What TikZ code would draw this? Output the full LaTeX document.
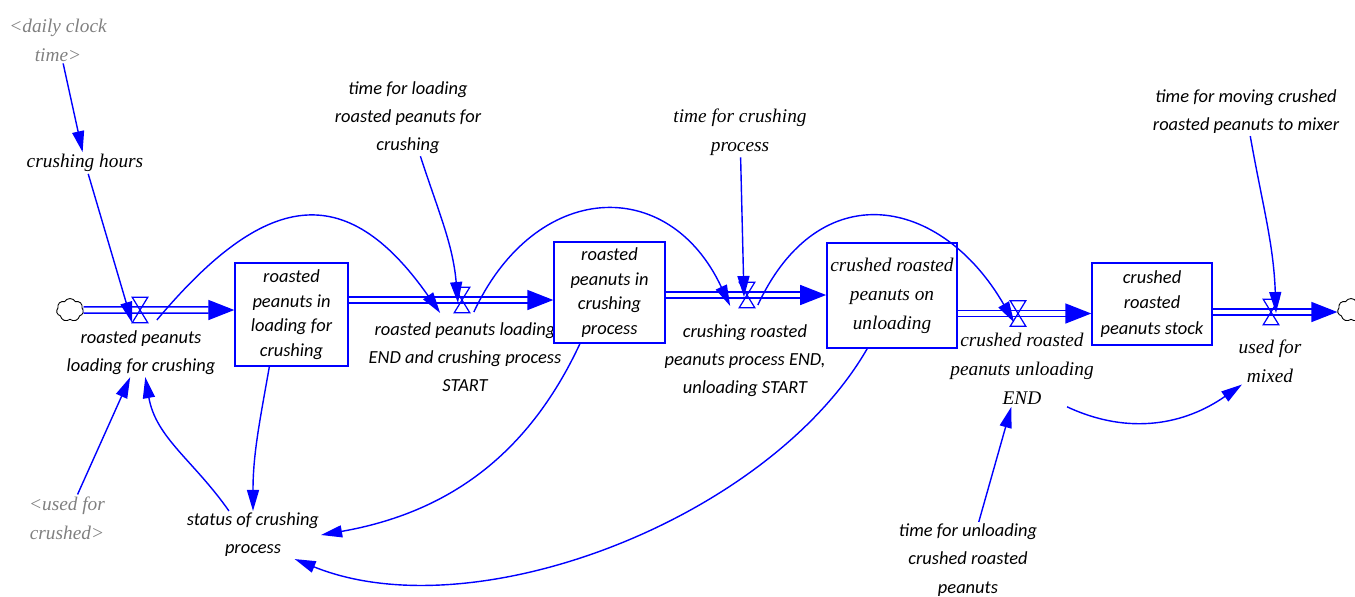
\documentclass[tikz,border=0pt]{standalone}
\usepackage{fontspec}
\usetikzlibrary{arrows.meta,shapes.symbols,calc}
\newfontfamily\carl{Carlito}
\newfontfamily\tms{Liberation Serif}
\definecolor{shadowgrey}{RGB}{128,128,128}
\tikzset{
  lbl/.style={align=center, inner sep=1pt, font=\carl\itshape\fontsize{10.5}{16}\selectfont},
  slbl/.style={align=center, inner sep=1pt, font=\tms\itshape\fontsize{11}{16.5}\selectfont},
  shadow/.style={slbl, text=shadowgrey},
  stock/.style={draw=blue, line width=0.8pt, align=center, inner sep=2pt, font=\carl\itshape\fontsize{10.5}{14}\selectfont},
  valve/.style={minimum width=0.3cm, minimum height=0.5cm, inner sep=0pt},
  source/.style={cloud, draw=black, fill=white, line width=0.5pt, cloud puffs=7, cloud puff arc=120, aspect=1.1, minimum width=0.54cm, minimum height=0.46cm, inner sep=0pt},
  pipe/.style={draw=blue, double=white, line width=0.9pt, double distance=2.6pt, -{Triangle[length=0.52cm,width=0.4cm]}},
  link/.style={blue, line width=0.8pt, -{Triangle[length=0.42cm,width=0.24cm]}}
}
\begin{document}
\begin{tikzpicture}[x=0.02cm,y=0.02cm]
\useasboundingbox (0,0) rectangle (1355,-596);

% stocks, valves and clouds
\node[source] (c1) at (70,-310) {};
\node[valve] (v1) at (140,-310) {};
\node[lbl] (v1lbl) at (141,-353) {roasted peanuts\\loading for crushing};
\node[stock, minimum width=2.26cm, minimum height=2.06cm] (b1) at (291.5,-314.5) {roasted\\peanuts in\\loading for\\crushing};
\node[valve] (v2) at (462,-300) {};
\node[lbl] (v2lbl) at (465,-357) {roasted peanuts loading\\END and crushing process\\START};
\node[stock, minimum width=2.22cm, minimum height=2.02cm] (b2) at (609.5,-292.5) {roasted\\peanuts in\\crushing\\process};
\node[valve] (v3) at (747,-295) {};
\node[lbl] (v3lbl) at (745,-361) {crushing roasted\\peanuts process END,\\unloading START};
\node[stock, font=\tms\itshape\fontsize{11}{16.5}\selectfont, minimum width=2.6cm, minimum height=2.1cm] (b3) at (892,-295.5) {crushed roasted\\peanuts on\\unloading};
\node[valve] (v4) at (1018,-313.5) {};
\node[slbl] (v4lbl) at (1022,-369) {crushed roasted\\peanuts unloading\\END};
\node[stock, font=\carl\itshape\fontsize{10.5}{14.5}\selectfont, minimum width=2.4cm, minimum height=1.64cm] (b4) at (1152,-304) {crushed\\roasted\\peanuts stock};
\node[valve] (v5) at (1271,-312) {};
\node[slbl] (mixlbl) at (1270,-361) {used for\\mixed};
\node[source] (c2) at (1351,-310) {};

% auxiliaries
\node[shadow] (daily) at (58,-40) {<daily clock\\time>};
\node[slbl] (hours) at (85,-163) {crushing hours};
\node[lbl] (tload) at (408,-118) {time for loading\\roasted peanuts for\\crushing};
\node[slbl] (tcrush) at (740,-132) {time for crushing\\process};
\node[lbl] (tmove) at (1246,-112) {time for moving crushed\\roasted peanuts to mixer};
\node[lbl] (status) at (253,-535) {status of crushing\\process};
\node[shadow] (usedcr) at (67,-518) {<used for\\crushed>};
\node[lbl] (tunload) at (968,-560) {time for unloading\\crushed roasted\\peanuts};

% flows
\draw[pipe] (c1.east) -- (v1 -| b1.west);
\draw[pipe] (v2 -| b1.east) -- (v2 -| b2.west);
\draw[pipe] (v3 -| b2.east) -- (v3 -| b3.west);
\draw[pipe] (v4 -| b3.east) -- (v4 -| b4.west);
\draw[pipe] (v5 -| b4.east) -- (v5 -| c2.west);
\foreach \v in {v1,v2,v3,v4,v5}
  \draw[blue, line width=0.7pt] (\v.north west) -- (\v.north east) -- (\v.south west) -- (\v.south east) -- cycle;

% information links
\draw[link] (daily) -- (hours);
\draw[link] (hours) -- (v1.south west);
\draw[link] ($(v1.east)+(9,-10)$) to[out=50,in=125,looseness=1.5] ($(v2.west)+(-14,-13)$);
\draw[link] (tload) to[out=-72,in=95] ($(v2)+(-4,-3)$);
\draw[link] ($(v2.east)+(4,-12)$) to[out=65,in=115,looseness=1.45] ($(v3.west)+(-9,-11)$);
\draw[link] (tcrush) -- ($(v3)+(-3,-2)$);
\draw[link] ($(v3.east)+(3,-10)$) to[out=65,in=120,looseness=1.45] ($(v4.west)+(4,-9)$);
\draw[link] (tmove) to[out=-80,in=92] ($(v5)+(5,-1)$);
\draw[link] (b1.-113) to[out=-100,in=90] (status.north);
\draw[link] (b2.-120) to[out=-115,in=10] (status.east);
\draw[link] (b3.-115) to[out=-120,in=-22,looseness=0.82] (status.-30);
\draw[link] (status.135) to[out=125,in=-80] (v1lbl);
\draw[link] (usedcr) -- (v1lbl);
\draw[link] (tunload) -- (v4lbl);
\draw[link] (v4lbl.-40) to[out=-25,in=215] (mixlbl.220);
\end{tikzpicture}
\end{document}
